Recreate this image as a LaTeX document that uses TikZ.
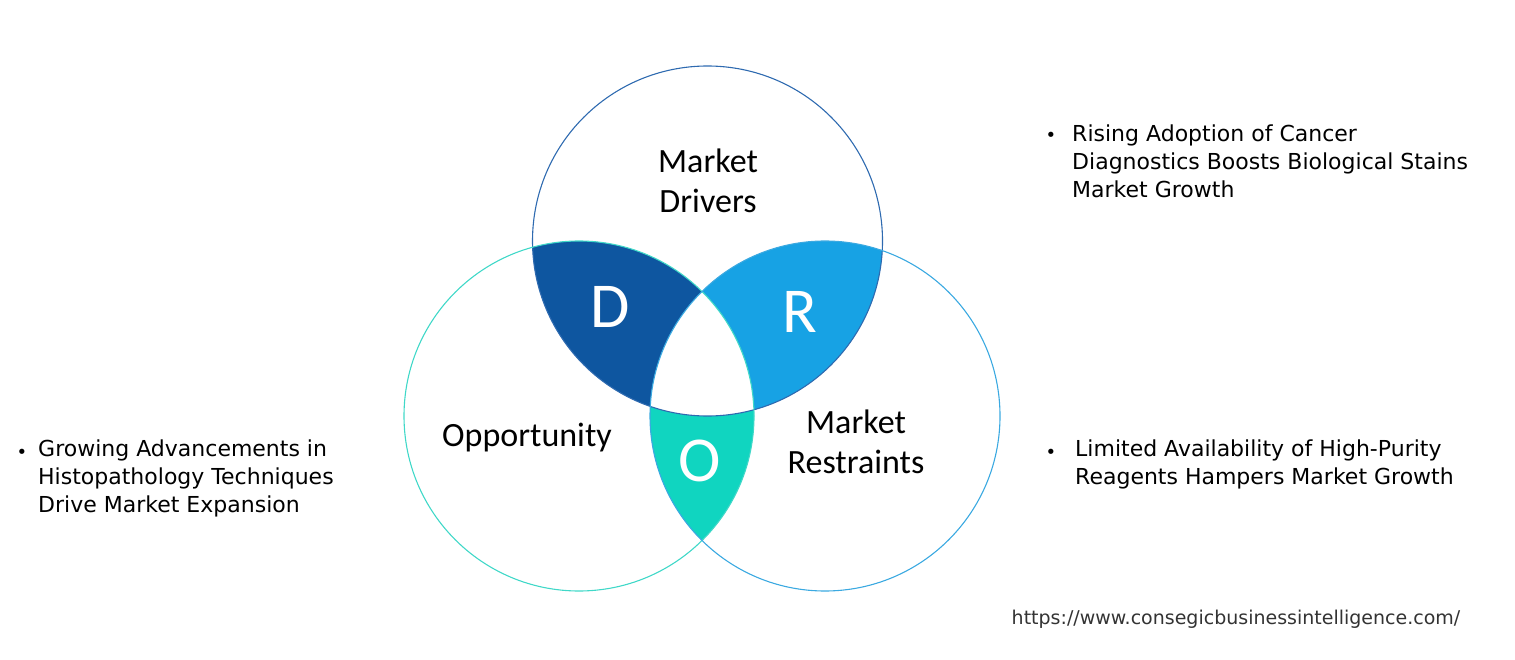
\documentclass[tikz,border=0pt]{standalone}
\usepackage{fontspec}
\setmainfont{DejaVu Sans}
\newfontfamily\carl{Carlito}
\definecolor{topline}{HTML}{2E6AB0}
\definecolor{leftline}{HTML}{40D8C8}
\definecolor{rightline}{HTML}{3BA9E1}
\definecolor{dcol}{HTML}{0E56A0}
\definecolor{rcol}{HTML}{17A2E4}
\definecolor{ocol}{HTML}{10D5C0}
\begin{document}
\begin{tikzpicture}[x=1pt,y=-1pt,
  venn/.style={font=\carl\fontsize{34}{40}\selectfont, align=center, text=black, inner sep=0pt},
  letter/.style={font=\carl\fontsize{64}{64}\selectfont, text=white, inner sep=0pt},
  bulletxt/.style={font=\fontsize{22}{28}\selectfont, align=left, anchor=west, inner sep=0pt, text=black},
  dot/.style={font=\fontsize{18}{28}\selectfont, inner sep=0pt, text=black}]
\useasboundingbox (0,0) rectangle (1515,660);
\coordinate (T) at (707.5,241);
\coordinate (L) at (579,416);
\coordinate (Rc) at (825,416);
% D region
\begin{scope}
  \clip (T) circle[radius=175pt];
  \clip (L) circle[radius=175pt];
  \fill[dcol] (L) circle[radius=175pt];
\end{scope}
% R region
\begin{scope}
  \clip (T) circle[radius=175pt];
  \clip (Rc) circle[radius=175pt];
  \fill[rcol] (Rc) circle[radius=175pt];
\end{scope}
% O region
\begin{scope}
  \clip (L) circle[radius=175pt];
  \clip (Rc) circle[radius=175pt];
  \fill[ocol] (Rc) circle[radius=175pt];
\end{scope}
% centre
\begin{scope}
  \clip (T) circle[radius=175pt];
  \clip (L) circle[radius=175pt];
  \fill[white] (Rc) circle[radius=175pt];
\end{scope}
\draw[topline, line width=1.1pt] (T) circle[radius=175pt];
\draw[leftline, line width=1.1pt] (L) circle[radius=175pt];
\draw[rightline, line width=1.1pt] (Rc) circle[radius=175pt];
\node[venn] (md) at (708,181) {Market\\Drivers};
\node[venn] (op) at (527,438) {Opportunity};
\node[venn] (mr) at (856,442) {Market\\Restraints};
\node[letter] (ld) at (610,307) {D};
\node[letter] (lr) at (800,312) {R};
\node[letter] (lo) at (700,461) {O};
\node[dot] (b1) at (1051,137) {•};
\node[bulletxt] (t1) at (1072,161) {Rising Adoption of Cancer\\Diagnostics Boosts Biological Stains\\Market Growth};
\node[dot] (b2) at (22,454) {•};
\node[bulletxt] (t2) at (38,478) {Growing Advancements in\\Histopathology Techniques\\Drive Market Expansion};
\node[dot] (b3) at (1051,454) {•};
\node[bulletxt] (t3) at (1075,464) {Limited Availability of High-Purity\\Reagents Hampers Market Growth};
\node[font=\fontsize{19}{20}\selectfont, inner sep=0pt, text=black!80] (url) at (1236,619) {https://www.consegicbusinessintelligence.com/};
\end{tikzpicture}
\end{document}
